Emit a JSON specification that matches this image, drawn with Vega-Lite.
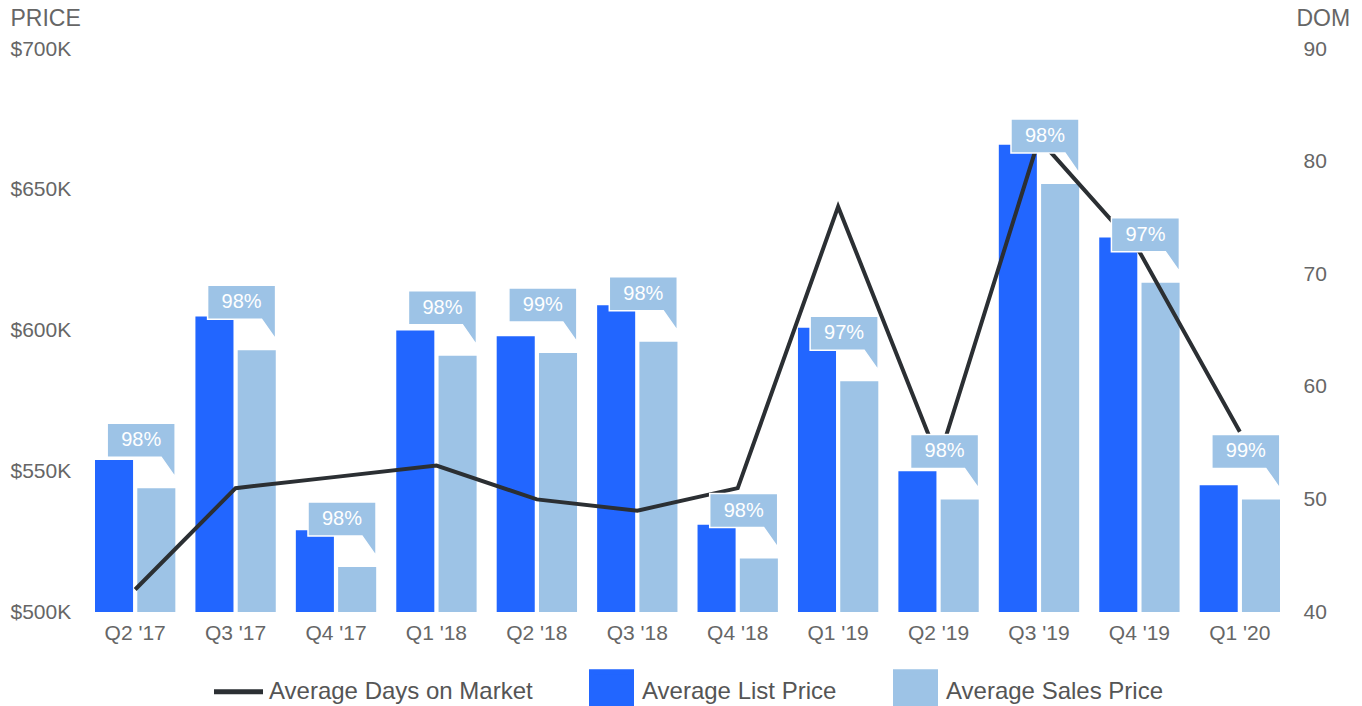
{
  "$schema": "https://vega.github.io/schema/vega-lite/v6.json",
  "width": 1185,
  "height": 563,
  "autosize": {"type": "none"},
  "padding": {"left": 95, "top": 49, "right": 82, "bottom": 94},
  "background": "white",
  "config": {
    "view": {"stroke": null},
    "font": "Liberation Sans",
    "axis": {
      "grid": false, "domain": false, "ticks": false,
      "labelFont": "Liberation Sans", "titleFont": "Liberation Sans",
      "labelColor": "#666666", "titleColor": "#666666"
    },
    "legend": {"labelFont": "Liberation Sans"}
  },
  "datasets": {
    "prices": [
      {"quarter": "Q2 '17", "series": "Average List Price", "price": 554000},
      {"quarter": "Q2 '17", "series": "Average Sales Price", "price": 544000},
      {"quarter": "Q3 '17", "series": "Average List Price", "price": 605000},
      {"quarter": "Q3 '17", "series": "Average Sales Price", "price": 593000},
      {"quarter": "Q4 '17", "series": "Average List Price", "price": 529000},
      {"quarter": "Q4 '17", "series": "Average Sales Price", "price": 516000},
      {"quarter": "Q1 '18", "series": "Average List Price", "price": 600000},
      {"quarter": "Q1 '18", "series": "Average Sales Price", "price": 591000},
      {"quarter": "Q2 '18", "series": "Average List Price", "price": 598000},
      {"quarter": "Q2 '18", "series": "Average Sales Price", "price": 592000},
      {"quarter": "Q3 '18", "series": "Average List Price", "price": 609000},
      {"quarter": "Q3 '18", "series": "Average Sales Price", "price": 596000},
      {"quarter": "Q4 '18", "series": "Average List Price", "price": 531000},
      {"quarter": "Q4 '18", "series": "Average Sales Price", "price": 519000},
      {"quarter": "Q1 '19", "series": "Average List Price", "price": 601000},
      {"quarter": "Q1 '19", "series": "Average Sales Price", "price": 582000},
      {"quarter": "Q2 '19", "series": "Average List Price", "price": 550000},
      {"quarter": "Q2 '19", "series": "Average Sales Price", "price": 540000},
      {"quarter": "Q3 '19", "series": "Average List Price", "price": 666000},
      {"quarter": "Q3 '19", "series": "Average Sales Price", "price": 652000},
      {"quarter": "Q4 '19", "series": "Average List Price", "price": 633000},
      {"quarter": "Q4 '19", "series": "Average Sales Price", "price": 617000},
      {"quarter": "Q1 '20", "series": "Average List Price", "price": 545000},
      {"quarter": "Q1 '20", "series": "Average Sales Price", "price": 540000}
    ],
    "quarters": [
      {"quarter": "Q2 '17", "dom": 42, "sales": 544000, "pct": "98%"},
      {"quarter": "Q3 '17", "dom": 51, "sales": 593000, "pct": "98%"},
      {"quarter": "Q4 '17", "dom": 52, "sales": 516000, "pct": "98%"},
      {"quarter": "Q1 '18", "dom": 53, "sales": 591000, "pct": "98%"},
      {"quarter": "Q2 '18", "dom": 50, "sales": 592000, "pct": "99%"},
      {"quarter": "Q3 '18", "dom": 49, "sales": 596000, "pct": "98%"},
      {"quarter": "Q4 '18", "dom": 51, "sales": 519000, "pct": "98%"},
      {"quarter": "Q1 '19", "dom": 76, "sales": 582000, "pct": "97%"},
      {"quarter": "Q2 '19", "dom": 53.5, "sales": 540000, "pct": "98%"},
      {"quarter": "Q3 '19", "dom": 82, "sales": 652000, "pct": "98%"},
      {"quarter": "Q4 '19", "dom": 72, "sales": 617000, "pct": "97%"},
      {"quarter": "Q1 '20", "dom": 56, "sales": 540000, "pct": "99%"}
    ]
  },
  "layer": [
    {
      "data": {"name": "prices"},
      "mark": {"type": "bar", "clip": true},
      "encoding": {
        "x": {
          "field": "quarter", "type": "nominal", "sort": null,
          "scale": {"paddingInner": 0.2, "paddingOuter": 0},
          "axis": {"title": null, "labelAngle": 0, "labelFontSize": 21, "labelPadding": 10}
        },
        "xOffset": {
          "field": "series", "type": "nominal",
          "sort": ["Average List Price", "Average Sales Price"],
          "scale": {"paddingInner": 0.1, "paddingOuter": 0}
        },
        "y": {
          "field": "price", "type": "quantitative",
          "scale": {"domain": [500000, 700000], "zero": false, "nice": false},
          "axis": {
            "orient": "left", "title": "PRICE",
            "values": [500000, 550000, 600000, 650000, 700000],
            "labelExpr": "'$' + (datum.value / 1000) + 'K'",
            "labelAlign": "left", "labelPadding": 85, "labelFontSize": 21, "labelFlush": false,
            "titleAngle": 0, "titleAlign": "left", "titleBaseline": "middle",
            "titleX": -85, "titleY": -31, "titleFontSize": 23, "titleFontWeight": "normal"
          }
        },
        "color": {
          "field": "series", "type": "nominal",
          "scale": {
            "domain": ["Average Days on Market", "Average List Price", "Average Sales Price"],
            "range": ["#2b2f33", "#2266ff", "#9dc3e6"]
          },
          "legend": {
            "orient": "none", "legendX": 121, "legendY": 620, "direction": "horizontal",
            "title": null, "symbolSize": 1600, "symbolType": "square",
            "labelFontSize": 24, "labelColor": "#555555", "labelOffset": 8, "labelLimit": 0,
            "columnPadding": 48,
            "encode": {
              "symbols": {
                "update": {
                  "shape": {"signal": "datum.value === 'Average Days on Market' ? 'M-1.225,-1L-1.225,-1M-1.225,0H1.225M1.225,1L1.225,1' : 'square'"},
                  "strokeWidth": {"value": 5},
                  "fill": {"signal": "datum.value === 'Average Days on Market' ? 'transparent' : scale('color', datum.value)"},
                  "stroke": {"signal": "scale('color', datum.value)"},
                  "opacity": {"value": 1},
                  "fillOpacity": {"value": 1},
                  "strokeOpacity": {"value": 1}
                }
              }
            }
          }
        }
      }
    },
    {
      "data": {"name": "quarters"},
      "mark": {"type": "line", "strokeWidth": 4},
      "encoding": {
        "x": {"field": "quarter", "type": "nominal", "sort": null},
        "y": {
          "field": "dom", "type": "quantitative",
          "scale": {"domain": [40, 90], "zero": false, "nice": false},
          "axis": {
            "orient": "right", "title": "DOM",
            "values": [40, 50, 60, 70, 80, 90],
            "labelAlign": "left", "labelPadding": 23, "labelFontSize": 21, "labelFlush": false,
            "titleAngle": 0, "titleAlign": "left", "titleBaseline": "middle",
            "titleX": 16, "titleY": -31, "titleFontSize": 23, "titleFontWeight": "normal"
          }
        },
        "color": {"datum": "Average Days on Market"}
      }
    },
    {
      "data": {"name": "quarters"},
      "mark": {
        "type": "point", "shape": "M-28,-65H40V-11L26,-31H-28Z", "size": 4,
        "filled": true, "fill": "#9dc3e6", "fillOpacity": 1, "opacity": 1,
        "stroke": "white", "strokeWidth": 1.5
      },
      "encoding": {
        "x": {"field": "quarter", "type": "nominal", "sort": null},
        "y": {"field": "sales", "type": "quantitative", "scale": {"domain": [500000, 700000], "zero": false, "nice": false}, "axis": null}
      }
    },
    {
      "data": {"name": "quarters"},
      "mark": {"type": "text", "dx": 6, "dy": -48, "fontSize": 20, "color": "white", "baseline": "middle", "align": "center", "font": "Liberation Sans"},
      "encoding": {
        "x": {"field": "quarter", "type": "nominal", "sort": null},
        "y": {"field": "sales", "type": "quantitative", "scale": {"domain": [500000, 700000], "zero": false, "nice": false}, "axis": null},
        "text": {"field": "pct"}
      }
    }
  ],
  "resolve": {"scale": {"y": "independent"}}
}
